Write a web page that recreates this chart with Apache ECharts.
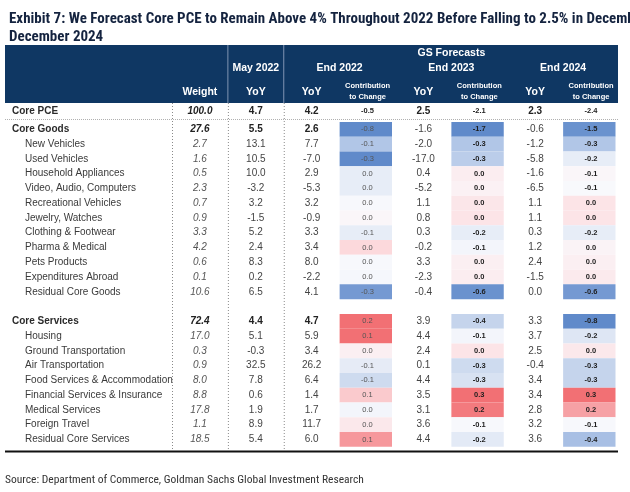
<!DOCTYPE html>
<html>
<head>
<meta charset="utf-8">
<script src="https://cdn.jsdelivr.net/npm/echarts@6/dist/echarts.min.js"></script>
<style>html,body{margin:0;padding:0;background:#fff}#c{width:630px;height:492px}</style>
</head>
<body>
<div id="c"></div>
<script>
// ---------------- DATA ----------------
const titleLine1 = 'Exhibit 7: We Forecast Core PCE to Remain Above 4% Throughout 2022 Before Falling to 2.5% in December 2023 and 2.3% in';
const titleLine2 = 'December 2024';
const sourceText = 'Source: Department of Commerce, Goldman Sachs Global Investment Research';

const columns = ['Weight', 'May 2022 YoY', 'End 2022 YoY', 'End 2022 Contribution', 'End 2023 YoY', 'End 2023 Contribution', 'End 2024 YoY', 'End 2024 Contribution'];
const periodHeaders = ['May 2022', 'End 2022', 'End 2023', 'End 2024'];

const totalRow = 'Core PCE';
const totalValues = [100.0, 4.7, 4.2, -0.5, 2.5, -2.1, 2.3, -2.4];

const rows = ['Core Goods', 'New Vehicles', 'Used Vehicles', 'Household Appliances', 'Video, Audio, Computers',
  'Recreational Vehicles', 'Jewelry, Watches', 'Clothing & Footwear', 'Pharma & Medical', 'Pets Products',
  'Expenditures Abroad', 'Residual Core Goods', '', 'Core Services', 'Housing', 'Ground Transportation',
  'Air Transportation', 'Food Services & Accommodation', 'Financial Services & Insurance', 'Medical Services',
  'Foreign Travel', 'Residual Core Services'];
const groupRows = ['Core PCE', 'Core Goods', 'Core Services'];

const weight      = [27.6, 2.7, 1.6, 0.5, 2.3, 0.7, 0.9, 3.3, 4.2, 0.6, 0.1, 10.6, null, 72.4, 17.0, 0.3, 0.9, 8.0, 8.8, 17.8, 1.1, 18.5];
const may22YoY    = [5.5, 13.1, 10.5, 10.0, -3.2, 3.2, -1.5, 5.2, 2.4, 8.3, 0.2, 6.5, null, 4.4, 5.1, -0.3, 32.5, 7.8, 0.6, 1.9, 8.9, 5.4];
const end22YoY    = [2.6, 7.7, -7.0, 2.9, -5.3, 3.2, -0.9, 3.3, 3.4, 8.0, -2.2, 4.1, null, 4.7, 5.9, 3.4, 26.2, 6.4, 1.4, 1.7, 11.7, 6.0];
const end22Contrib= [-0.8, -0.1, -0.3, 0.0, 0.0, 0.0, 0.0, -0.1, 0.0, 0.0, 0.0, -0.3, null, 0.2, 0.1, 0.0, -0.1, -0.1, 0.1, 0.0, 0.0, 0.1];
const end23YoY    = [-1.6, -2.0, -17.0, 0.4, -5.2, 1.1, 0.8, 0.3, -0.2, 3.3, -2.3, -0.4, null, 3.9, 4.4, 2.4, 0.1, 4.4, 3.5, 3.1, 3.6, 4.4];
const end23Contrib= [-1.7, -0.3, -0.3, 0.0, 0.0, 0.0, 0.0, -0.2, -0.1, 0.0, 0.0, -0.6, null, -0.4, -0.1, 0.0, -0.3, -0.3, 0.3, 0.2, -0.1, -0.2];
const end24YoY    = [-0.6, -1.2, -5.8, -1.6, -6.5, 1.1, 1.1, 0.3, 1.2, 2.4, -1.5, 0.0, null, 3.3, 3.7, 2.5, -0.4, 3.4, 3.4, 2.8, 3.2, 3.6];
const end24Contrib= [-1.5, -0.3, -0.2, -0.1, -0.1, 0.0, 0.0, -0.2, 0.0, 0.0, 0.0, -0.6, null, -0.8, -0.2, 0.0, -0.3, -0.3, 0.3, 0.2, -0.1, -0.4];

// Heat-map shading of the contribution cells (-1 = deepest blue, +1 = deepest red)
const end22Shade  = [-0.95, -0.55, -0.95, -0.2, -0.2, -0.03, 0.05, -0.2, 0.35, -0.03, -0.05, -0.85, null, 0.95, 0.95, 0.12, -0.22, -0.4, 0.45, -0.08, 0.2, 0.75];
const end23Shade  = [-0.95, -0.55, -0.5, 0.15, 0.1, 0.22, 0.25, -0.2, -0.08, 0.12, 0.15, -0.9, null, -0.45, -0.08, 0.25, -0.4, -0.35, 0.95, 0.9, -0.03, -0.25];
const end24Shade  = [-0.9, -0.55, -0.2, 0.05, -0.02, 0.25, 0.25, -0.2, 0.08, 0.12, 0.18, -0.85, null, -0.95, -0.3, 0.2, -0.45, -0.45, 0.95, 0.7, -0.03, -0.6];

// ---------------- LAYOUT ----------------
const W = 630;
const gridLeft = 172, gridWidth = 447;
const bw = gridWidth / columns.length;
const colX = i => gridLeft + (i + 0.5) * bw;
const colEdge = i => gridLeft + i * bw;
const tableLeft = 5, tableRight = 618;
const headTop = 45, headBottom = 103;
const totTop = 103, totH = 16;
const mainTop = 121.9, rowH = 14.77;
const bottomLine = 451.5;
const NAVY = '#0f3763';
const BODY_FONT = '"Liberation Sans", Arial, sans-serif';
const NARROW_FONT = '"Liberation Sans Narrow", "Arial Narrow", "Roboto Condensed", "Liberation Sans", sans-serif';

const mainColumns = [weight, may22YoY, end22YoY, end22Contrib, end23YoY, end23Contrib, end24YoY, end24Contrib];
const shades = {3: end22Shade, 5: end23Shade, 7: end24Shade};

function cellData(colIdxs, source) {
  const out = [];
  colIdxs.forEach(c => {
    source[c].forEach((v, r) => { if (v !== null && v !== undefined) out.push([c, r, v]); });
  });
  return out;
}
const weightData = cellData([0], mainColumns);
const yoyData = cellData([1, 2, 4, 6], mainColumns);
const contribData = cellData([3, 5, 7], mainColumns);
const shadeData = [];
[3, 5, 7].forEach(c => shades[c].forEach((v, r) => { if (v !== null) shadeData.push([c, r, v]); }));
const totData = totalValues.map((v, i) => [i, 0, v]);

function textItem(api, font, fill) {
  const p = api.coord([api.value(0), api.value(1)]);
  return {type: 'text', x: p[0], y: p[1], style: {text: api.value(2).toFixed(1), align: 'center', verticalAlign: 'middle', font: font, fill: fill}};
}

const chart = echarts.init(document.getElementById('c'), null, {renderer: 'canvas'});

const catAxisX = gi => ({type: 'category', gridIndex: gi, data: columns, show: false});

const option = {
  backgroundColor: '#fff',
  animation: false,
  title: {
    text: titleLine1 + '\n' + titleLine2,
    left: 4, top: 5,
    textStyle: {fontFamily: NARROW_FONT, fontSize: 15, fontWeight: 'bold', color: '#14233f', lineHeight: 18}
  },
  grid: [
    {left: gridLeft, top: totTop, width: gridWidth, height: totH},
    {left: gridLeft, top: mainTop, width: gridWidth, height: rowH * rows.length}
  ],
  xAxis: [catAxisX(0), catAxisX(1)],
  yAxis: [
    {type: 'category', gridIndex: 0, data: [totalRow], inverse: true,
      axisLine: {show: false}, axisTick: {show: false}, splitLine: {show: false},
      axisLabel: {align: 'left', margin: gridLeft - 12, fontFamily: BODY_FONT, fontSize: 10, fontWeight: 'bold', color: '#2b2b2b'}},
    {type: 'category', gridIndex: 1, data: rows, inverse: true,
      axisLine: {show: false}, axisTick: {show: false}, splitLine: {show: false},
      axisLabel: {align: 'left', margin: gridLeft - 12, interval: 0,
        formatter: v => v === '' ? '' : (groupRows.includes(v) ? '{b|' + v + '}' : '{n|' + v + '}'),
        rich: {
          b: {fontFamily: BODY_FONT, fontSize: 10, fontWeight: 'bold', color: '#2b2b2b'},
          n: {fontFamily: BODY_FONT, fontSize: 10, color: '#3a3a3a', padding: [0, 0, 0, 13]}
        }}}
  ],
  visualMap: {
    show: false, type: 'continuous', seriesIndex: 0, dimension: 2, min: -1, max: 1,
    inRange: {color: ['#5582c6', '#9bb6e0', '#dbe4f3', '#fafafd', '#fcdcdf', '#f7a8ac', '#f1666a']}
  },
  series: [
    {
      type: 'custom', name: 'shade', xAxisIndex: 1, yAxisIndex: 1, data: shadeData,
      renderItem: (params, api) => {
        const p = api.coord([api.value(0), api.value(1)]);
        const s = api.size([1, 1]);
        return {type: 'rect', shape: {x: p[0] - s[0] / 2, y: p[1] - s[1] / 2, width: s[0] - 3.5, height: s[1]},
          style: {fill: api.visual('color')}};
      }
    },
    {
      type: 'custom', name: 'weight', xAxisIndex: 1, yAxisIndex: 1, data: weightData, z: 3,
      renderItem: (params, api) => {
        const g = groupRows.includes(rows[api.value(1)]);
        return textItem(api, 'italic ' + (g ? 'bold ' : '') + '10px ' + BODY_FONT, g ? '#222' : '#555');
      }
    },
    {
      type: 'custom', name: 'yoy', xAxisIndex: 1, yAxisIndex: 1, data: yoyData, z: 3,
      renderItem: (params, api) => {
        const g = groupRows.includes(rows[api.value(1)]) && api.value(0) <= 2;
        return textItem(api, (g ? 'bold ' : '') + '10px ' + BODY_FONT, g ? '#222' : '#444');
      }
    },
    {
      type: 'custom', name: 'contrib', xAxisIndex: 1, yAxisIndex: 1, data: contribData, z: 3,
      renderItem: (params, api) => {
        const b = api.value(0) > 3;
        return textItem(api, (b ? 'bold ' : '') + '7.5px ' + BODY_FONT, b ? '#1e1e1e' : '#555');
      }
    },
    {
      type: 'custom', name: 'total', xAxisIndex: 0, yAxisIndex: 0, data: totData, z: 3,
      renderItem: (params, api) => {
        const c = api.value(0);
        const contrib = c === 3 || c === 5 || c === 7;
        const font = (c === 0 ? 'italic ' : '') + 'bold ' + (contrib ? '7.5px ' : '10px ') + BODY_FONT;
        return textItem(api, font, '#222');
      }
    }
  ],
  graphic: []
};

// ---- header & rules (decoration) ----
const g = [];
g.push({type: 'rect', shape: {x: tableLeft, y: headTop, width: tableRight - tableLeft, height: headBottom - headTop}, style: {fill: NAVY}, z: 1});
[1, 2].forEach(i => g.push({type: 'line', shape: {x1: colEdge(i), y1: headTop, x2: colEdge(i), y2: headBottom}, style: {stroke: '#8195b3', lineWidth: 1}, z: 2}));
const hText = (txt, x, y, size, weightStr) => g.push({type: 'text', x: x, y: y, z: 3,
  style: {text: txt, align: 'center', verticalAlign: 'middle', font: (weightStr || 'bold') + ' ' + size + 'px ' + BODY_FONT, fill: '#ffffff'}});
hText('GS Forecasts', (colEdge(2) + colEdge(8)) / 2, 53, 10.5);
hText(periodHeaders[0], colX(1), 68, 10.5);
hText(periodHeaders[1], colEdge(3), 68, 10.5);
hText(periodHeaders[2], colEdge(5), 68, 10.5);
hText(periodHeaders[3], colEdge(7), 68, 10.5);
hText('Weight', colX(0), 92, 10.5);
[1, 2, 4, 6].forEach(i => hText('YoY', colX(i), 92, 10.5));
[3, 5, 7].forEach(i => { hText('Contribution', colX(i), 86, 7.5); hText('to Change', colX(i), 97, 7.5); });
// dotted column separators
[0, 1, 2].forEach(i => g.push({type: 'line', shape: {x1: colEdge(i) + 0.5, y1: headBottom, x2: colEdge(i) + 0.5, y2: bottomLine}, style: {stroke: '#8a8a8a', lineWidth: 1, lineDash: [1, 2]}, z: 2}));
// dotted rule under Core PCE
g.push({type: 'line', shape: {x1: tableLeft, y1: 119.5, x2: tableRight, y2: 119.5}, style: {stroke: '#b0b0b0', lineWidth: 1, lineDash: [1, 1]}, z: 2});
// bottom rule
g.push({type: 'line', shape: {x1: tableLeft, y1: bottomLine, x2: tableRight, y2: bottomLine}, style: {stroke: '#111', lineWidth: 2}, z: 2});
// source
g.push({type: 'text', x: 5, y: 480, z: 3, style: {text: sourceText, align: 'left', verticalAlign: 'middle', font: '11.5px ' + NARROW_FONT, fill: '#333'}});
option.graphic = g;

chart.setOption(option);
</script>
</body>
</html>
